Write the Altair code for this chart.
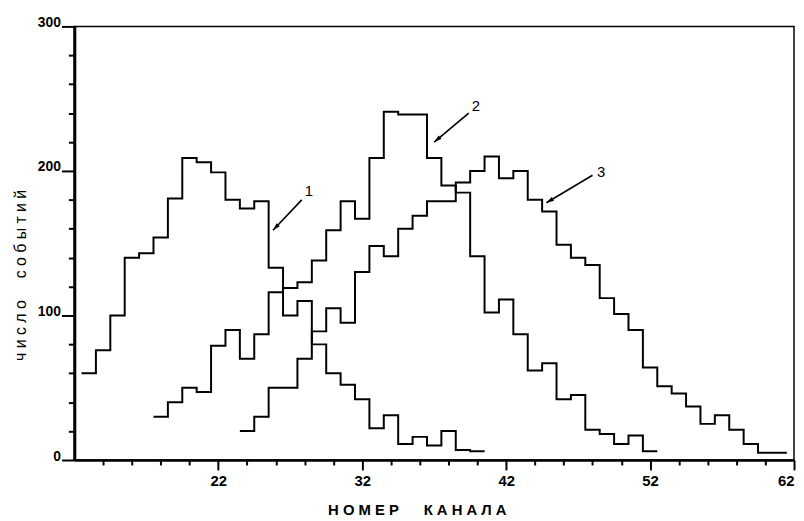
import altair as alt
import pandas as pd

# ---- data (channel = bin centre, value = counts) ----
ch1 = list(range(13, 41))
v1 = [60, 76, 100, 140, 143, 154, 181, 209, 206, 199, 180, 174, 179, 133, 100,
      110, 80, 60, 52, 42, 22, 31, 11, 16, 10, 20, 7, 6]
ch2 = list(range(18, 53))
v2 = [30, 40, 50, 47, 79, 90, 70, 87, 116, 119, 123, 138, 159, 179, 167, 209,
      241, 239, 239, 209, 190, 185, 141, 102, 111, 87, 62, 67, 42, 45, 21, 18,
      11, 17, 6]
ch3 = list(range(24, 62))
v3 = [20, 30, 50, 50, 70, 89, 105, 95, 130, 148, 141, 160, 169, 179, 179, 192,
      200, 210, 195, 200, 180, 172, 149, 140, 135, 112, 101, 90, 64, 51, 46, 37,
      25, 31, 21, 11, 5, 5]

x_labels = [22, 32, 42, 52, 62]
x_minor = [14, 16, 18, 20, 24, 26, 28, 30, 34, 36, 38, 40, 44, 46, 48, 50,
           54, 56, 58, 60]
y_labels = [0, 100, 200, 300]
y_minor = [20, 40, 60, 80, 120, 140, 160, 180, 220, 240, 260, 280]

# curve annotations (in data units)
ann_text = ["1", "2", "3"]
ann_x = [28.3, 39.9, 48.6]
ann_y = [186, 245, 199]
tail_x = [27.8, 39.4, 48.0]
tail_y = [180, 240, 197]
tip_x = [25.8, 37.0, 44.8]
tip_y = [159, 220, 178]
tip_angle = [44, 51, 59]

# ---- build step table (bin edges) ----
rows = []
for name, chs, vals in [("1", ch1, v1), ("2", ch2, v2), ("3", ch3, v3)]:
    k = 0
    for c, v in zip(chs, vals):
        rows.append({"s": name, "x": c - 0.5, "y": v, "o": k})
        k += 1
    rows.append({"s": name, "x": chs[-1] + 0.5, "y": vals[-1], "o": k})
hist = pd.DataFrame(rows)

ann = pd.DataFrame({"t": ann_text, "lx": ann_x, "ly": ann_y,
                    "x1": tail_x, "y1": tail_y, "x2": tip_x, "y2": tip_y,
                    "a": tip_angle})

xs = alt.Scale(domain=[12, 62], nice=False, zero=False)
ys = alt.Scale(domain=[0, 300], nice=False)

FONT = "Liberation Sans"
NB = "\u00a0"
x_title = NB.join("НОМЕР") + NB * 6 + NB.join("КАНАЛА")
y_title = NB.join("число") + NB * 5 + NB.join("событий")

x_axis = alt.Axis(
    values=x_labels, labelOverlap=False,
    tickSize=10, tickWidth=2, tickColor="black",
    domainColor="black", domainWidth=2.5,
    labelFont=FONT, labelFontSize=15, labelFontWeight="bold", labelColor="black",
    labelPadding=4, labelFlush=True,
    grid=False,
    title=x_title,
    titleFont=FONT, titleFontSize=15, titleFontWeight="bold", titleColor="black",
    titleX=346, titleY=50, titleAlign="center", titleBaseline="middle",
)
y_axis = alt.Axis(
    values=y_labels, labelOverlap=False,
    tickSize=13, tickWidth=2, tickColor="black",
    domainColor="black", domainWidth=3,
    labelFont=FONT, labelFontSize=14, labelFontWeight="bold", labelColor="black",
    labelPadding=1, labelBaseline="alphabetic",
    grid=False,
    title=y_title,
    titleFont=FONT, titleFontSize=16, titleFontWeight="normal", titleColor="black",
    titleAngle=270, titleX=-54, titleY=251, titleAlign="center", titleBaseline="middle",
)

x_minor_axis = alt.Axis(values=x_minor, orient="bottom", offset=0, tickSize=5,
                        tickWidth=2, tickColor="black", labels=False,
                        domain=False, grid=False, title=None)
y_minor_axis = alt.Axis(values=y_minor, orient="left", offset=0, tickSize=6,
                        tickWidth=2, tickColor="black", labels=False,
                        domain=False, grid=False, title=None)

lines = alt.Chart(hist).mark_line(interpolate="step-after", color="black",
                                  strokeWidth=2).encode(
    x=alt.X("x:Q", scale=xs, axis=x_axis),
    y=alt.Y("y:Q", scale=ys, axis=y_axis),
    detail="s:N",
    order="o:Q",
)

arrows = alt.Chart(ann).mark_rule(color="black", strokeWidth=1.6).encode(
    x=alt.X("x1:Q", scale=xs), y=alt.Y("y1:Q", scale=ys),
    x2="x2:Q", y2="y2:Q",
)

heads = alt.Chart(ann).mark_point(
    shape="M0,0L-0.3,-1L0.3,-1Z", filled=True, color="black", size=230, opacity=1
).encode(
    x=alt.X("x2:Q", scale=xs), y=alt.Y("y2:Q", scale=ys),
    angle=alt.Angle("a:Q", scale=None),
)

labels = alt.Chart(ann).mark_text(font=FONT, fontSize=15, color="black",
                                  align="center", baseline="middle").encode(
    x=alt.X("lx:Q", scale=xs), y=alt.Y("ly:Q", scale=ys), text="t:N",
)

minor = alt.Chart(hist).mark_point(opacity=0).encode(
    x=alt.X("x:Q", scale=xs, axis=x_minor_axis),
    y=alt.Y("y:Q", scale=ys, axis=y_minor_axis),
)

main = alt.layer(lines, arrows, heads, labels)

chart = alt.layer(main, minor).resolve_scale(
    x="independent", y="independent"
).properties(
    width=727, height=438,
    autosize=alt.AutoSizeParams(type="none"),
    padding={"left": 67, "top": 16, "right": 2, "bottom": 57},
    background="white",
).configure_view(stroke="black", strokeWidth=1.5)

chart.save("out.html", embed_options={"renderer": "svg", "actions": False})
